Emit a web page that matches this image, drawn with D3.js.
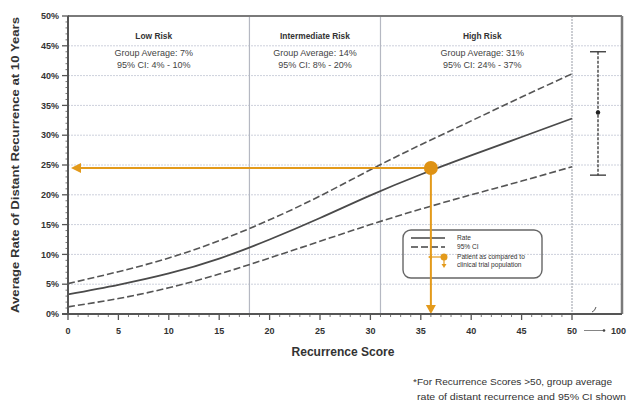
<!DOCTYPE html>
<html>
<head>
<meta charset="utf-8">
<script src="https://cdn.jsdelivr.net/npm/d3@7"></script>
<style>
  body { margin: 0; background: #fff; }
  svg { font-family: "Liberation Sans", Arial, sans-serif; }
</style>
</head>
<body>
<div id="chart"></div>
<script>
// recurrence score vs 10-year distant recurrence rate (%)
const scores = [0, 5, 10, 15, 20, 25, 30, 35, 40, 45, 50]
const rate   = [3.3, 4.9, 6.8, 9.3, 12.5, 16.1, 19.9, 23.4, 26.6, 29.7, 32.8]
const upper  = [5.1, 7.1, 9.4, 12.3, 15.8, 19.8, 24.2, 28.4, 32.4, 36.4, 40.3]
const lower  = [1.2, 2.6, 4.4, 6.7, 9.4, 12.2, 15.0, 17.6, 20.0, 22.3, 24.7]

const cutoffs = [18, 31]
const groups = [
  {name: 'Low Risk', avg: 'Group Average: 7%', ci: '95% CI: 4% - 10%', from: 0, to: 18},
  {name: 'Intermediate Risk', avg: 'Group Average: 14%', ci: '95% CI: 8% - 20%', from: 18, to: 31},
  {name: 'High Risk', avg: 'Group Average: 31%', ci: '95% CI: 24% - 37%', from: 31, to: 50}
]
// group bar for scores > 50
const above50 = {mean: 33.8, lo: 23.3, hi: 44.0}
const patient = {score: 36, rate: 24.5}

const xTicks = [0, 5, 10, 15, 20, 25, 30, 35, 40, 45, 50]
const yTicks = [0, 5, 10, 15, 20, 25, 30, 35, 40, 45, 50]

const width = 627, height = 403
const margin = {top: 16, right: 5, bottom: 89, left: 68}
const plotRight = 622

const svg = d3.select('#chart').append('svg')
  .attr('width', width).attr('height', height)

const x = d3.scaleLinear().domain([0, 50]).range([margin.left, 572])
const y = d3.scaleLinear().domain([0, 50]).range([314, margin.top])

const orange = '#E39A1B'
const ink = '#333333'

// horizontal grid
svg.append('g').selectAll('line')
  .data(yTicks.filter(d => d > 0))
  .enter().append('line')
    .attr('x1', x(0)).attr('x2', plotRight)
    .attr('y1', d => y(d)).attr('y2', d => y(d))
    .attr('stroke', '#cdd1dc').attr('stroke-width', 1)
    .attr('stroke-dasharray', '2,1')

// risk cutoffs
svg.append('g').selectAll('line')
  .data(cutoffs)
  .enter().append('line')
    .attr('x1', d => x(d)).attr('x2', d => x(d))
    .attr('y1', y(50)).attr('y2', y(0))
    .attr('stroke', '#b5b8c2').attr('stroke-width', 1.2)

svg.append('line')
  .attr('x1', x(50)).attr('x2', x(50))
  .attr('y1', y(50)).attr('y2', y(0))
  .attr('stroke', '#a9acb5').attr('stroke-width', 1.2)
  .attr('stroke-dasharray', '2,1')

// frame top / right
svg.append('line').attr('x1', x(0)).attr('x2', plotRight)
  .attr('y1', y(50)).attr('y2', y(50))
  .attr('stroke', '#7a7a7a').attr('stroke-width', 2)
svg.append('line').attr('x1', plotRight).attr('x2', plotRight)
  .attr('y1', y(50)).attr('y2', y(0))
  .attr('stroke', '#7a7a7a').attr('stroke-width', 2.5)

// group labels (nudged a little like the original)
const nudge = [-5, 0, 6]
let gl = svg.append('g').attr('text-anchor', 'middle')
groups.forEach(function(g, i) {
  let cx = (x(g.from) + x(g.to)) / 2 + nudge[i]
  gl.append('text').attr('x', cx).attr('y', 39).text(g.name)
    .attr('fill', ink).attr('font-size', '8.4px').attr('font-weight', 'bold')
  gl.append('text').attr('x', cx).attr('y', 56).text(g.avg)
    .attr('fill', '#444').attr('font-size', '9px')
  gl.append('text').attr('x', cx).attr('y', 68).text(g.ci)
    .attr('fill', '#444').attr('font-size', '9px')
})

// curves
const pts = arr => scores.map((s, i) => [s, arr[i]])
const line = d3.line().x(d => x(d[0])).y(d => y(d[1])).curve(d3.curveNatural)

svg.append('path').attr('d', line(pts(upper)))
  .attr('fill', 'none').attr('stroke', '#555').attr('stroke-width', 1.6)
  .attr('stroke-dasharray', '7,3')
svg.append('path').attr('d', line(pts(lower)))
  .attr('fill', 'none').attr('stroke', '#555').attr('stroke-width', 1.6)
  .attr('stroke-dasharray', '7,3')
svg.append('path').attr('d', line(pts(rate)))
  .attr('fill', 'none').attr('stroke', '#4a4a4a').attr('stroke-width', 1.8)

// error bar for scores > 50
let ebx = 598
svg.append('line').attr('x1', ebx).attr('x2', ebx)
  .attr('y1', y(above50.hi)).attr('y2', y(above50.lo))
  .attr('stroke', '#333').attr('stroke-width', 1.3).attr('stroke-dasharray', '3,1.5')
;[above50.hi, above50.lo].forEach(v => {
  svg.append('line').attr('x1', ebx - 8).attr('x2', ebx + 8)
    .attr('y1', y(v)).attr('y2', y(v))
    .attr('stroke', '#333').attr('stroke-width', 1.3)
})
svg.append('circle').attr('cx', ebx).attr('cy', y(above50.mean)).attr('r', 2.2).attr('fill', '#222')

// legend
let lg = svg.append('g')
lg.append('rect').attr('x', 403).attr('y', 230).attr('width', 139).attr('height', 48)
  .attr('rx', 8).attr('fill', 'none').attr('stroke', '#666').attr('stroke-width', 1.4)
lg.append('line').attr('x1', 411).attr('x2', 445).attr('y1', 238).attr('y2', 238)
  .attr('stroke', '#444').attr('stroke-width', 1.5)
lg.append('line').attr('x1', 411).attr('x2', 445).attr('y1', 247).attr('y2', 247)
  .attr('stroke', '#444').attr('stroke-width', 1.5).attr('stroke-dasharray', '7,3')
lg.append('line').attr('x1', 430).attr('x2', 444).attr('y1', 257).attr('y2', 257)
  .attr('stroke', orange).attr('stroke-width', 1.2)
lg.append('path').attr('d', 'M428,257 l4,-2.5 v5 z').attr('fill', orange)
lg.append('line').attr('x1', 444).attr('x2', 444).attr('y1', 257).attr('y2', 266)
  .attr('stroke', orange).attr('stroke-width', 1.2)
lg.append('path').attr('d', 'M444,268 l-2.5,-4 h5 z').attr('fill', orange)
lg.append('circle').attr('cx', 444).attr('cy', 257).attr('r', 3.5).attr('fill', orange)
let lt = lg.append('g').attr('fill', ink).attr('font-size', '6.6px')
lt.append('text').attr('x', 457).attr('y', 240).text('Rate')
lt.append('text').attr('x', 457).attr('y', 249).text('95% CI')
lt.append('text').attr('x', 457).attr('y', 259).text('Patient as compared to')
lt.append('text').attr('x', 457).attr('y', 267).text('clinical trial population')

// patient marker + arrows
svg.append('line').attr('x1', x(patient.score)).attr('x2', x(0) + 8)
  .attr('y1', y(patient.rate)).attr('y2', y(patient.rate))
  .attr('stroke', orange).attr('stroke-width', 2)
svg.append('path')
  .attr('d', `M${x(0) + 3},${y(patient.rate)} l10,-5 v10 z`).attr('fill', orange)
svg.append('line').attr('x1', x(patient.score)).attr('x2', x(patient.score))
  .attr('y1', y(patient.rate)).attr('y2', y(0) - 8)
  .attr('stroke', orange).attr('stroke-width', 2)
svg.append('path')
  .attr('d', `M${x(patient.score)},${y(0)} l-5,-9 h10 z`).attr('fill', orange)
svg.append('circle').attr('cx', x(patient.score)).attr('cy', y(patient.rate))
  .attr('r', 7).attr('fill', '#DE9214')

// y axis
svg.append('line').attr('x1', x(0)).attr('x2', x(0)).attr('y1', y(50)).attr('y2', y(0))
  .attr('stroke', '#555').attr('stroke-width', 2)
svg.append('g').selectAll('line').data(d3.range(0, 51))
  .enter().append('line')
    .attr('x1', d => d % 5 === 0 ? x(0) - 6 : x(0) - 2.5).attr('x2', x(0) + 1)
    .attr('y1', d => y(d)).attr('y2', d => y(d))
    .attr('stroke', '#555').attr('stroke-width', d => d % 5 === 0 ? 1.3 : 0.8)
svg.append('g').attr('text-anchor', 'end').attr('fill', ink)
  .attr('font-size', '9px').attr('font-weight', 'bold')
  .selectAll('text').data(yTicks).enter().append('text')
    .attr('x', 59).attr('y', d => y(d) + 3.2).text(d => d + '%')

// x axis
svg.append('line').attr('x1', x(0) - 6).attr('x2', plotRight).attr('y1', y(0)).attr('y2', y(0))
  .attr('stroke', '#555').attr('stroke-width', 2.2)
svg.append('g').selectAll('line').data(d3.range(0, 51))
  .enter().append('line')
    .attr('x1', d => x(d)).attr('x2', d => x(d))
    .attr('y1', y(0)).attr('y2', d => d % 5 === 0 ? y(0) + 6 : y(0) + 3)
    .attr('stroke', '#555').attr('stroke-width', d => d % 5 === 0 ? 1.3 : 0.8)
svg.append('g').attr('text-anchor', 'middle').attr('fill', ink)
  .attr('font-size', '9px').attr('font-weight', 'bold')
  .selectAll('text').data(xTicks).enter().append('text')
    .attr('x', d => x(d)).attr('y', 334).text(d => d)
svg.append('text').attr('x', 626).attr('y', 334).attr('text-anchor', 'end')
  .attr('fill', ink).attr('font-size', '9px').attr('font-weight', 'bold').text('100')
svg.append('line').attr('x1', 584).attr('x2', 603).attr('y1', 330.5).attr('y2', 330.5)
  .attr('stroke', '#666').attr('stroke-width', 0.8)
svg.append('circle').attr('cx', 604).attr('cy', 330.5).attr('r', 1.3).attr('fill', '#444')
// axis break mark
svg.append('path').attr('d', 'M592,312 q3,-1 4,-5').attr('fill', 'none')
  .attr('stroke', '#555').attr('stroke-width', 1)

// axis titles
svg.append('text').attr('x', 343).attr('y', 356).attr('text-anchor', 'middle')
  .attr('fill', ink).attr('font-size', '12px').attr('font-weight', 'bold')
  .attr('textLength', 103).attr('lengthAdjust', 'spacingAndGlyphs')
  .text('Recurrence Score')
svg.append('text').attr('transform', 'translate(19,165) rotate(-90)')
  .attr('text-anchor', 'middle').attr('fill', ink)
  .attr('font-size', '10.5px').attr('font-weight', 'bold')
  .attr('textLength', 296).attr('lengthAdjust', 'spacingAndGlyphs')
  .text('Average Rate of Distant Recurrence at 10 Years')

// footnote
let fn = svg.append('g').attr('fill', ink).attr('font-size', '9.6px')
fn.append('text').attr('x', 413).attr('y', 385)
  .attr('textLength', 199).attr('lengthAdjust', 'spacingAndGlyphs')
  .text('*For Recurrence Scores >50, group average')
fn.append('text').attr('x', 417).attr('y', 400)
  .attr('textLength', 209).attr('lengthAdjust', 'spacingAndGlyphs')
  .text('rate of distant recurrence and 95% CI shown')
</script>
</body>
</html>
